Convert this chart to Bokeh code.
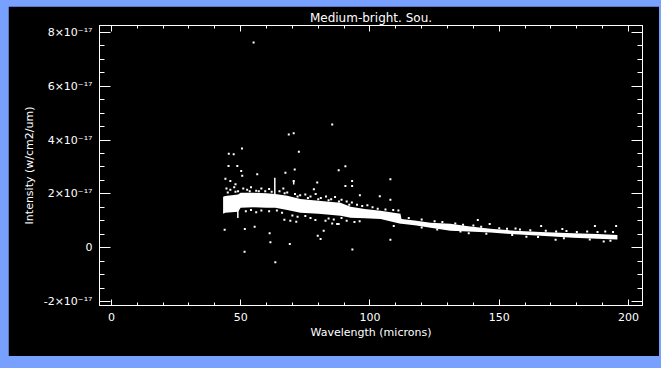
from bokeh.plotting import figure
from bokeh.models import Range1d, LinearAxis, FixedTicker
from bokeh.layouts import column
from bokeh.embed import file_html
from bokeh.resources import INLINE

# ---- data (intensity in units of 1e-17 W/cm2/um) ----
band_wl = [43.2, 44.0, 49.0, 50.0, 55.0, 60.0, 63.4, 68.0, 73.1, 80.0, 88.6, 92.5, 98.0,
           104.1, 111.8, 112.2, 118.0, 123.4, 131.1, 138.0, 146.6, 156.0, 166.0, 178.7,
           188.0, 195.7]
band_hi = [1.89, 1.92, 1.98, 2.04, 2.04, 2.02, 2.00, 1.93, 1.81, 1.74, 1.67, 1.52, 1.44,
           1.37, 1.26, 1.07, 1.00, 0.93, 0.89, 0.80, 0.70, 0.63, 0.58, 0.54, 0.51, 0.47]
band_lo = [1.26, 1.30, 1.34, 1.48, 1.50, 1.48, 1.48, 1.40, 1.30, 1.26, 1.19, 1.11, 1.09,
           1.07, 0.89, 0.89, 0.82, 0.74, 0.63, 0.60, 0.56, 0.50, 0.44, 0.37, 0.33, 0.30]

out_wl = [55.0, 85.4, 68.6, 70.5, 50.5, 45.4, 47.3, 72.5, 90.5, 87.9, 107.9, 93.1, 93.1,
          90.5, 96.1, 103.8, 107.9, 45.3, 48.7, 50.2, 50.6, 56.4, 67.3, 70.9, 44.1, 46.0,
          48.0, 70.5, 79.6, 78.3, 43.8, 51.6, 55.4, 61.2, 61.5, 69.0, 51.5, 63.4, 79.8,
          80.9, 82.1, 93.2, 87.3, 109.2, 107.9, 66.9, 69.2, 71.5, 78.9, 82.8, 85.4, 87.9,
          141.7, 146.3, 138.2, 156.3, 160.5, 166.2, 174.4, 187.0, 195.2, 171.8, 190.4]
out_int = [7.63, 4.58, 4.21, 4.25, 3.69, 3.49, 3.47, 3.57, 3.03, 2.88, 2.54, 2.48, 2.29,
           2.29, 1.95, 1.91, 1.78, 3.04, 3.04, 2.85, 2.67, 2.73, 2.79, 2.91, 2.56, 2.48,
           2.36, 2.48, 2.42, 2.17, 0.67, 0.69, 0.78, 0.54, 0.20, 0.14, -0.15, -0.54, 0.44,
           0.32, 0.63, -0.07, 0.88, 0.81, 0.29, 1.04, 1.00, 0.96, 1.03, 1.00, 0.90, 0.88,
           1.03, 0.88, 0.54, 0.71, 0.41, 0.81, 0.69, 0.81, 0.81, 0.29, 0.23]

edge_wl = [44.5, 46.0, 47.5, 49.0, 51.0, 52.5, 54.0, 56.0, 58.0, 59.5, 61.0, 65.0, 66.5,
           68.0, 71.0, 73.0, 75.0, 77.0, 79.0, 81.0, 83.0, 85.0, 86.5, 89.0, 91.0, 93.0,
           95.0, 97.0, 99.0, 101.0, 103.0, 106.0, 109.0, 111.0,
           45.0, 48.0, 53.5, 57.0, 62.0, 67.0, 72.0, 76.0, 80.0, 84.0, 88.0, 92.0,
           52.0, 54.0, 56.0, 58.0, 61.0, 64.0, 66.0, 70.0, 72.0, 75.0, 77.0, 84.0, 86.0,
           89.0, 91.0, 94.0, 96.0,
           115.0, 120.0, 125.0, 128.0, 133.0, 136.0, 140.0, 143.0, 150.0, 153.0, 158.0,
           162.0, 168.0, 172.0, 176.0, 180.0, 184.0, 188.0, 191.0, 194.0,
           120.0, 126.0, 135.0, 145.0, 155.0, 165.0, 175.0, 185.0, 193.0]
edge_int = [2.20, 2.15, 2.25, 2.10, 2.20, 2.15, 2.25, 2.12, 2.20, 2.10, 2.18, 2.10, 2.20,
            2.05, 2.00, 1.95, 1.98, 1.90, 2.00, 1.85, 1.90, 1.80, 1.88, 1.78, 1.72, 1.68,
            1.60, 1.55, 1.58, 1.50, 1.45, 1.42, 1.40, 1.38,
            2.05, 2.08, 2.10, 2.10, 2.08, 2.02, 1.90, 1.85, 1.80, 1.76, 1.72, 1.60,
            1.35, 1.40, 1.32, 1.38, 1.35, 1.38, 1.30, 1.20, 1.15, 1.18, 1.10, 1.08, 1.05,
            1.10, 1.00, 0.95, 0.98,
            1.10, 1.05, 0.98, 0.95, 0.90, 0.85, 0.82, 0.78, 0.72, 0.70, 0.68,
            0.65, 0.63, 0.60, 0.62, 0.58, 0.60, 0.58, 0.60, 0.58,
            0.75, 0.68, 0.60, 0.52, 0.47, 0.40, 0.35, 0.30, 0.26]

spike_wl = [63.2, 70.5, 48.9]
spike_lo = [2.00, 2.35, 1.10]
spike_hi = [2.60, 2.50, 1.50]

x_ticks = [0, 50, 100, 150, 200]
x_tick_labels = ["0", "50", "100", "150", "200"]
y_ticks = [-2, 0, 2, 4, 6, 8]
y_tick_labels = ["-2×10⁻¹⁷", "0", "2×10⁻¹⁷", "4×10⁻¹⁷", "6×10⁻¹⁷", "8×10⁻¹⁷"]
x_minor = [v for v in range(0, 210, 10)]
y_minor = [v * 0.5 for v in range(-4, 17)]

FONT = "DejaVu Sans"
FG = "white"

p = figure(width=651, height=350, x_range=Range1d(-4.6, 205.4), y_range=Range1d(-2.15, 8.26),
           output_backend="svg", toolbar_location=None,
           background_fill_color="black", border_fill_color="black",
           min_border_left=91, min_border_right=17, min_border_top=19, min_border_bottom=51,
           x_axis_location=None, y_axis_location=None)
p.margin = (6, 2, 12, 8)
p.grid.visible = False
p.outline_line_color = FG

p.title.text = "Medium-bright. Sou."
p.title.align = "center"
p.title.text_color = FG
p.title.text_font = FONT
p.title.text_font_size = "12px"
p.title.text_font_style = "normal"
p.title.standoff = 1
p.title.offset = 0


def style_axis(ax, ticks, minor, labels, major_len, minor_len, show_labels):
    ax.ticker = FixedTicker(ticks=ticks, minor_ticks=minor)
    ax.axis_line_color = FG
    ax.major_tick_line_color = FG
    ax.minor_tick_line_color = FG
    ax.major_tick_in = major_len
    ax.major_tick_out = 0
    ax.minor_tick_in = minor_len
    ax.minor_tick_out = 0
    if show_labels:
        ax.major_label_overrides = {t: l for t, l in zip(ticks, labels)}
        ax.major_label_text_color = FG
        ax.major_label_text_font = FONT
        ax.major_label_text_font_size = "11px"
        ax.axis_label_text_color = FG
        ax.axis_label_text_font = FONT
        ax.axis_label_text_font_size = "11px"
        ax.axis_label_text_font_style = "normal"
    else:
        ax.major_label_overrides = {t: "" for t in ticks}
        ax.major_label_standoff = 0


xb = LinearAxis(axis_label="Wavelength (microns)")
style_axis(xb, x_ticks, x_minor, x_tick_labels, 6, 3, True)
xb.major_label_standoff = 7
xb.axis_label_standoff = 2
p.add_layout(xb, "below")

xt = LinearAxis()
style_axis(xt, x_ticks, x_minor, x_tick_labels, 6, 3, False)
p.add_layout(xt, "above")

yl = LinearAxis(axis_label="Intensity (w/cm2/um)")
style_axis(yl, y_ticks, y_minor, y_tick_labels, 11, 5, True)
yl.major_label_standoff = 7
yl.axis_label_standoff = 5
p.add_layout(yl, "left")

yr = LinearAxis()
style_axis(yr, y_ticks, y_minor, y_tick_labels, 11, 5, False)
p.add_layout(yr, "right")

# data
p.varea(x=band_wl, y1=band_lo, y2=band_hi, fill_color=FG)
p.segment(x0=spike_wl, y0=spike_lo, x1=spike_wl, y1=spike_hi, line_color=FG, line_width=1.5)
p.scatter(x=edge_wl, y=edge_int, marker="square", size=2, fill_color=FG, line_color=None)
p.scatter(x=out_wl, y=out_int, marker="square", size=2, fill_color=FG, line_color=None)

lay = column(p, styles={"background-color": "#78a0ff"})
open("out.html", "w").write(file_html(lay, INLINE))
